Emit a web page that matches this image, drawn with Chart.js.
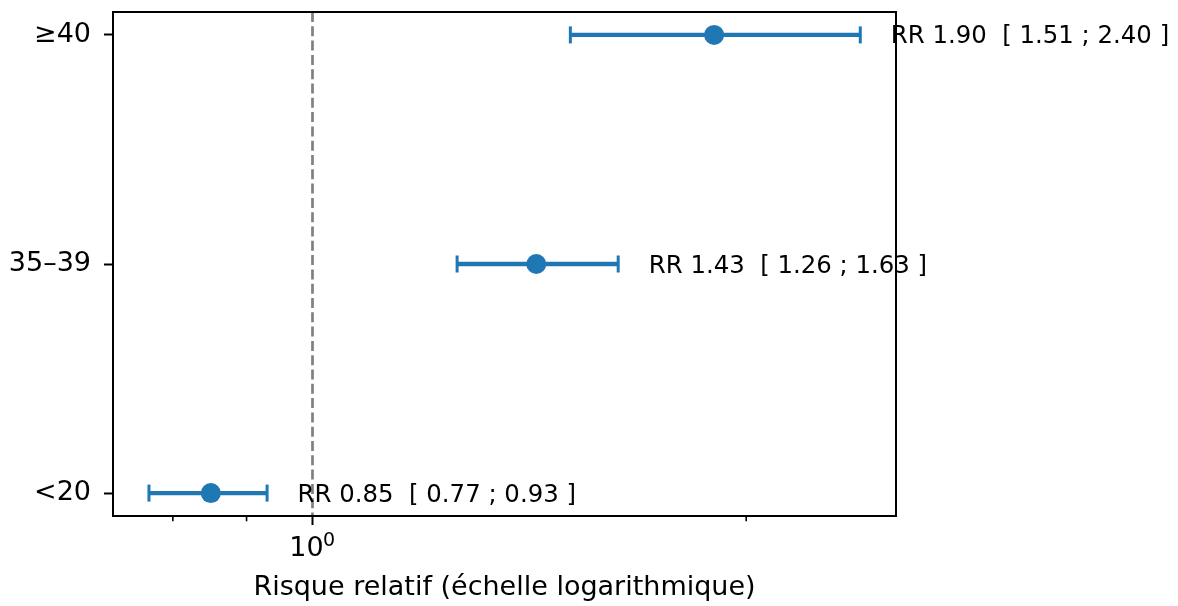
<!DOCTYPE html>
<html lang="fr">
<head>
<meta charset="utf-8">
<title>Risque relatif par groupe d'âge</title>
<script src="https://cdn.jsdelivr.net/npm/chart.js@4/dist/chart.umd.min.js"></script>
<style>
  html, body { margin:0; padding:0; background:#fff; }
  #wrap { width:1178px; height:606px; position:relative; }
</style>
</head>
<body>
<div id="wrap"><canvas id="rrChart"></canvas></div>
<script>
// ── DATA ─────────────────────────────────────────────────────────
const groups  = ['<20', '35–39', '≥40'];
const rr      = [0.85, 1.43, 1.90];
const ciLow   = [0.77, 1.26, 1.51];
const ciHigh  = [0.93, 1.63, 2.40];
const xMajor  = [1];
const xMinor  = [0.8, 0.9, 2];

const blue = '#1f77b4';
const FONT = '"DejaVu Sans", sans-serif';

// ── CI bars: a two-point line per group, caps drawn as rotated 'line' points
const ciSets = groups.map((g, i) => ({
  label: g,
  data: [{ x: ciLow[i], y: i }, { x: ciHigh[i], y: i }],
  showLine: true,
  borderColor: blue, borderWidth: 4.3,
  pointStyle: 'line', pointRotation: 90, pointRadius: 8.5, pointHoverRadius: 8.5,
  pointBorderWidth: 3, pointBorderColor: blue, pointBackgroundColor: blue
}));

const rrSet = {
  label: 'RR',
  data: rr.map((v, i) => ({ x: v, y: i })),
  showLine: false,
  pointRadius: 10, pointHoverRadius: 10, pointBorderWidth: 0,
  pointBackgroundColor: blue, pointBorderColor: blue
};

// ── reference line at RR = 1, axes frame, minor ticks, exponent and RR labels
const forestDecor = {
  id: 'forestDecor',
  beforeDatasetsDraw(chart) {
    const { ctx, chartArea: a, scales: { x } } = chart;
    const px = x.getPixelForValue(1);
    ctx.save();
    ctx.strokeStyle = '#808080';
    ctx.lineWidth = 2.7;
    ctx.setLineDash([10, 4.3]);
    ctx.beginPath();
    ctx.moveTo(px, a.top);
    ctx.lineTo(px, a.bottom);
    ctx.stroke();
    ctx.restore();
  },
  afterDatasetsDraw(chart) {
    const { ctx, chartArea: a, scales: { x, y } } = chart;
    ctx.save();
    // RR text right of each interval
    ctx.font = '24.4px ' + FONT;
    ctx.fillStyle = '#000';
    ctx.textAlign = 'left';
    ctx.textBaseline = 'alphabetic';
    groups.forEach((g, i) => {
      const txt = `RR ${rr[i].toFixed(2)}  [ ${ciLow[i].toFixed(2)} ; ${ciHigh[i].toFixed(2)} ]`;
      ctx.fillText(txt, x.getPixelForValue(ciHigh[i] * 1.05), y.getPixelForValue(i) + 8.5);
    });
    // exponent of the 10^0 tick label
    ctx.font = '19px ' + FONT;
    xMajor.forEach(v => {
      ctx.fillText(String(Math.round(Math.log10(v))), x.getPixelForValue(v) + 10.5, a.bottom + 29.5);
    });
    // frame
    ctx.strokeStyle = '#000';
    ctx.lineWidth = 2;
    ctx.strokeRect(a.left, a.top, a.right - a.left, a.bottom - a.top);
    // minor ticks on the log axis
    ctx.lineWidth = 1.6;
    ctx.beginPath();
    xMinor.forEach(v => {
      const px = x.getPixelForValue(v);
      ctx.moveTo(px, a.bottom);
      ctx.lineTo(px, a.bottom + 5.3);
    });
    ctx.stroke();
    ctx.restore();
  }
};

new Chart(document.getElementById('rrChart'), {
  type: 'scatter',
  data: { datasets: [...ciSets, rrSet] },
  plugins: [forestDecor],
  options: {
    responsive: true, maintainAspectRatio: false, animation: false,
    devicePixelRatio: 1,
    layout: { padding: { left: 0, right: 282, top: 12, bottom: 0 } },
    plugins: { legend: { display: false }, tooltip: { enabled: false } },
    scales: {
      x: {
        type: 'logarithmic', position: 'bottom', bounds: 'data',
        min: 0.727, max: 2.541,
        afterBuildTicks: s => { s.ticks = [...xMinor, ...xMajor].sort((a, b) => a - b).map(v => ({ value: v, major: xMajor.includes(v) })); },
        afterFit: s => { s.height = 90; s.paddingLeft = 0; s.paddingRight = 0; },
        ticks: {
          autoSkip: false, maxRotation: 0, padding: 8, color: '#000', labelOffset: -6,
          font: { family: FONT, size: 27 },
          callback: v => xMajor.includes(v) ? '10' : ''
        },
        grid: {
          display: true, drawOnChartArea: false, drawTicks: true, tickLength: 9, tickWidth: 2,
          tickColor: c => (c.tick && xMajor.includes(c.tick.value)) ? '#000' : 'rgba(0,0,0,0)'
        },
        border: { display: false },
        title: {
          display: true, text: 'Risque relatif (échelle logarithmique)', color: '#000',
          font: { family: FONT, size: 27 }, padding: { top: 0, bottom: 2 }
        }
      },
      y: {
        type: 'linear', min: -0.1, max: 2.1,
        afterBuildTicks: s => { s.ticks = groups.map((g, i) => ({ value: i })); },
        afterFit: s => { s.width = 113; s.paddingTop = 0; s.paddingBottom = 0; },
        ticks: {
          autoSkip: false, padding: 13, color: '#000',
          font: { family: FONT, size: 27 },
          callback: v => groups[v] ?? ''
        },
        grid: { display: true, drawOnChartArea: false, drawTicks: true, tickLength: 9, tickWidth: 2, tickColor: '#000' },
        border: { display: false }
      }
    }
  }
});
</script>
</body>
</html>
